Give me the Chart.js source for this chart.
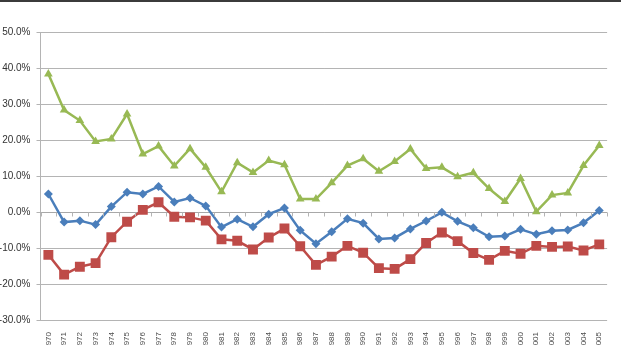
<!DOCTYPE html>
<html>
<head>
<meta charset="utf-8">
<script src="https://cdn.jsdelivr.net/npm/chart.js@4.4.1/dist/chart.umd.min.js"></script>
<style>
  html, body { margin: 0; padding: 0; background: #fff; overflow: hidden; }
  #wrap { position: relative; width: 621px; height: 348px; }
  #topbar { position: absolute; left: 0; top: 0; width: 621px; height: 2px; background: #3b3b3b; }
  canvas { position: absolute; left: 0; top: 0; }
</style>
</head>
<body>
<div id="wrap">
  <canvas id="myChart" width="621" height="348"></canvas>
  <div id="topbar"></div>
</div>
<script>
// tick labels as they show in the picture (year labels cut at the bottom edge)
const years = ["970","971","972","973","974","975","976","977","978","979",
  "980","981","982","983","984","985","986","987","988","989",
  "990","991","992","993","994","995","996","997","998","999",
  "000","001","002","003","004","005"];

// values in percent
const blueSeries = [5.0, -2.8, -2.4, -3.5, 1.5, 5.5, 5.0, 7.1, 2.8, 3.9,
  1.7, -4.2, -2.0, -4.1, -0.6, 1.1, -5.1, -8.8, -5.5, -1.9,
  -3.1, -7.5, -7.2, -4.7, -2.5, -0.1, -2.6, -4.4, -6.9, -6.7,
  -4.8, -6.2, -5.2, -5.0, -3.0, 0.4];

const redSeries = [-11.9, -17.4, -15.2, -14.2, -7.0, -2.7, 0.6, 2.7, -1.3, -1.5,
  -2.4, -7.6, -8.0, -10.4, -7.1, -4.6, -9.5, -14.7, -12.4, -9.4,
  -11.3, -15.6, -15.8, -13.1, -8.6, -5.7, -8.1, -11.4, -13.3, -10.8,
  -11.6, -9.4, -9.7, -9.6, -10.7, -9.0];

const greenSeries = [38.3, 28.3, 25.4, 19.6, 20.3, 27.2, 16.1, 18.3, 12.8, 17.6,
  12.4, 5.6, 13.7, 11.0, 14.3, 13.1, 3.6, 3.6, 8.1, 12.9,
  14.8, 11.3, 14.0, 17.5, 12.1, 12.4, 9.8, 10.9, 6.5, 2.9,
  9.3, 0.1, 4.7, 5.3, 12.9, 18.5];

const yMin = -30;
const yMax = 50;
const yStep = 10;

const gridGrey = "#b4b4b4";

// small tick marks on the zero line, between categories
const zeroAxisTicks = {
  id: "zeroAxisTicks",
  afterDatasetsDraw(chart) {
    const x = chart.scales.x;
    const y = chart.scales.y;
    const ctx = chart.ctx;
    const y0 = Math.round(y.getPixelForValue(0)) + 0.5;
    const n = chart.data.labels.length;
    ctx.save();
    ctx.strokeStyle = gridGrey;
    ctx.lineWidth = 1;
    ctx.beginPath();
    for (let i = 0; i <= n; i++) {
      const px = Math.round(x.getPixelForValue(i - 0.5)) + 0.5;
      ctx.moveTo(px, y0);
      ctx.lineTo(px, y0 + 4);
    }
    ctx.stroke();
    ctx.restore();
  },
  beforeDatasetsDraw(chart) {
    const x = chart.scales.x;
    const y = chart.scales.y;
    const ctx = chart.ctx;
    const y0 = Math.round(y.getPixelForValue(0)) + 0.5;
    ctx.save();
    ctx.strokeStyle = "#a8a8a8";
    ctx.lineWidth = 1;
    ctx.beginPath();
    ctx.moveTo(x.left, y0);
    ctx.lineTo(x.right, y0);
    ctx.stroke();
    ctx.restore();
  }
};

const ctx = document.getElementById("myChart").getContext("2d");

new Chart(ctx, {
  type: "line",
  data: {
    labels: years,
    datasets: [
      {
        label: "Series 1",
        data: blueSeries,
        borderColor: "#4a7ebb",
        backgroundColor: "#4a7ebb",
        borderWidth: 2.5,
        pointStyle: "rectRot",
        pointRadius: 4.5,
        pointBorderWidth: 0,
        tension: 0,
      },
      {
        label: "Series 2",
        data: redSeries,
        borderColor: "#be4b48",
        backgroundColor: "#be4b48",
        borderWidth: 2.5,
        pointStyle: "rect",
        pointRadius: 7,
        pointBorderWidth: 0,
        tension: 0,
      },
      {
        label: "Series 3",
        data: greenSeries,
        borderColor: "#98b954",
        backgroundColor: "#98b954",
        borderWidth: 2.5,
        pointStyle: "triangle",
        pointRadius: 5,
        pointBorderWidth: 0,
        tension: 0,
      },
    ],
  },
  options: {
    responsive: false,
    animation: false,
    events: [],
    layout: {
      padding: { left: 0, right: 11, top: 32, bottom: 0 },
    },
    plugins: {
      legend: { display: false },
      tooltip: { enabled: false },
    },
    scales: {
      x: {
        offset: true,
        grid: { display: false, drawTicks: false },
        border: { display: false },
        ticks: {
          autoSkip: false,
          minRotation: 90,
          maxRotation: 90,
          padding: 12,
          color: "#4d4d4d",
          font: { family: "Liberation Sans", size: 8 },
        },
        afterFit(scale) {
          scale.height = 28;
        },
      },
      y: {
        min: yMin,
        max: yMax,
        grid: {
          color: gridGrey,
          lineWidth: 1,
          tickLength: 4,
        },
        border: { display: true, color: gridGrey, width: 1 },
        ticks: {
          stepSize: yStep,
          padding: 6,
          color: "#333333",
          font: { family: "Liberation Sans", size: 10 },
          callback: (v) => v.toFixed(1) + "%",
        },
        afterFit(scale) {
          scale.width = 40.5;
        },
      },
    },
  },
  plugins: [zeroAxisTicks],
});
</script>
</body>
</html>
